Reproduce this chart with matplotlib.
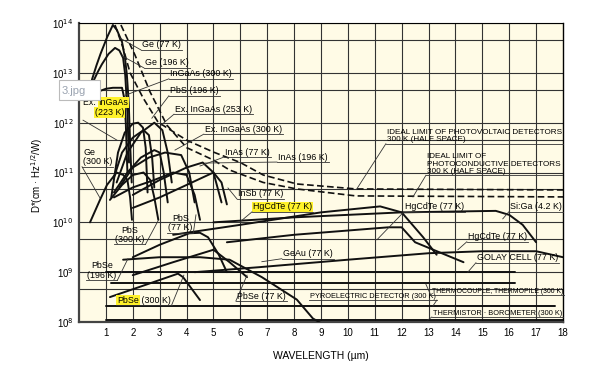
import numpy as np
import matplotlib.pyplot as plt
from matplotlib.lines import Line2D
from matplotlib.patches import Rectangle
from matplotlib.transforms import IdentityTransform, Bbox

plt.rcParams['font.family'] = ['Liberation Sans', 'DejaVu Sans']

# wavelength (um) and log10 D*
ge77_wl = [0.48, 0.65, 0.8, 1.05, 1.26, 1.41, 1.6, 1.71, 1.78, 1.85, 1.9, 1.96]
ge77_d = [12.86, 13.15, 13.38, 13.72, 13.96, 13.86, 13.62, 13.3, 12.96, 12.4, 11.6, 10.8]
ge196_wl = [0.55, 0.7, 0.85, 1.1, 1.34, 1.5, 1.64, 1.72, 1.8, 1.86]
ge196_d = [12.85, 13.02, 13.17, 13.38, 13.5, 13.45, 13.3, 12.95, 12.2, 11.2]
ingaas300_wl = [0.52, 0.8, 1.0, 1.26, 1.6, 1.68, 1.74, 1.8]
ingaas300_d = [12.56, 12.64, 12.68, 12.7, 12.7, 12.5, 12.0, 11.0]
exingaas223_wl = [1.2, 1.45, 1.7, 2.0, 2.2, 2.38, 2.48, 2.55]
exingaas223_d = [10.5, 11.4, 11.8, 11.98, 12.0, 11.9, 11.5, 10.6]
exingaas253_wl = [1.3, 1.6, 2.0, 2.4, 2.6, 2.72, 2.8]
exingaas253_d = [10.9, 11.4, 11.7, 11.85, 11.75, 11.3, 10.7]
pbs196_wl = [1.4, 1.8, 2.3, 2.8, 3.1, 3.3, 3.45]
pbs196_d = [10.8, 11.4, 11.8, 12.0, 11.85, 11.4, 10.8]
exingaas300_wl = [1.3, 1.8, 2.3, 2.8, 3.0, 3.15, 3.3]
exingaas300_d = [10.6, 11.0, 11.3, 11.45, 11.4, 11.0, 10.4]
inas77_wl = [1.5, 2.0, 2.6, 3.2, 3.8, 4.1, 4.3]
inas77_d = [10.7, 11.1, 11.3, 11.4, 11.35, 11.0, 10.4]
inas196_wl = [2.0, 3.0, 4.0, 4.6, 5.0, 5.3]
inas196_d = [10.55, 10.85, 11.1, 11.2, 11.0, 10.4]
insb77_wl = [2.0, 3.0, 4.0, 5.0, 5.3, 5.5]
insb77_d = [10.29, 10.5, 10.75, 11.0, 10.8, 10.36]
ge300_wl = [0.41, 0.78, 1.04, 1.4, 1.65, 1.8, 1.9, 1.97]
ge300_d = [10.0, 10.45, 10.75, 11.0, 10.95, 10.85, 10.5, 10.05]
pbs300_wl = [1.15, 1.6, 2.0, 2.4, 2.65, 2.8, 2.95]
pbs300_d = [10.45, 10.75, 10.95, 11.0, 10.85, 10.5, 10.05]
pbs77_wl = [1.3, 2.0, 2.8, 3.5, 4.0, 4.3, 4.5]
pbs77_d = [10.5, 10.7, 10.85, 11.0, 10.95, 10.55, 10.05]
pbse196_wl = [2.0, 3.0, 4.1, 4.5, 4.8, 5.2, 5.5]
pbse196_d = [9.3, 9.55, 9.78, 9.79, 9.7, 9.35, 9.0]
pbse77_wl = [2.0, 3.5, 5.0, 5.6, 6.25]
pbse77_d = [8.94, 9.2, 9.45, 9.2, 8.9]
pbse300_wl = [1.15, 2.5, 3.68, 3.87, 4.5]
pbse300_d = [8.5, 8.75, 8.97, 8.9, 8.44]
geau77_wl = [1.64, 3.0, 4.5, 5.6, 6.8, 8.1, 8.7, 8.96]
geau77_d = [9.25, 9.3, 9.3, 9.25, 8.9, 8.45, 8.07, 7.99]
hgcdte_a_wl = [3.5, 6.0, 9.0, 11.2, 12.0, 12.8, 13.3]
hgcdte_a_d = [9.75, 9.95, 10.2, 10.32, 10.2, 9.7, 9.35]
hgcdte_b_wl = [5.5, 8.0, 11.5, 12.0, 12.5, 14.3]
hgcdte_b_d = [9.6, 9.75, 9.9, 9.9, 9.6, 9.2]
hgcdte_c_wl = [4.3, 6.7, 10.0, 13.0, 15.0, 17.0, 18.0]
hgcdte_c_d = [9.0, 9.1, 9.25, 9.38, 9.42, 9.42, 9.3]
siga_wl = [5.0, 8.0, 12.0, 15.5, 16.0, 16.5, 17.0]
siga_d = [10.0, 10.1, 10.2, 10.23, 10.15, 9.95, 9.6]
golay_wl = [1.0, 16.2]
golay_d = [9.0, 9.0]
thermo_wl = [1.2, 16.2]
thermo_d = [8.78, 8.78]
pyro_wl = [1.0, 17.7]
pyro_d = [8.32, 8.32]
thermistor_wl = [1.0, 18.0]
thermistor_d = [8.05, 8.05]

# ideal limits (dashed)
pv_wl = [1.34, 1.64, 1.9, 2.38, 2.94, 4.0, 5.0, 6.0, 6.85, 8.1, 10.3, 18.0]
pv_d = [13.96, 13.5, 13.0, 12.5, 12.01, 11.65, 11.41, 11.2, 10.95, 10.77, 10.67, 10.65]
pc_wl = [1.56, 2.08, 2.64, 3.27, 4.0, 5.0, 5.6, 6.85, 8.1, 10.3, 18.0]
pc_d = [13.96, 13.36, 12.62, 11.95, 11.5, 11.25, 11.05, 10.8, 10.67, 10.53, 10.51]

solid = [(ge77_wl, ge77_d), (ge196_wl, ge196_d), (ingaas300_wl, ingaas300_d),
         (exingaas223_wl, exingaas223_d), (exingaas253_wl, exingaas253_d),
         (pbs196_wl, pbs196_d), (exingaas300_wl, exingaas300_d),
         (inas77_wl, inas77_d), (inas196_wl, inas196_d), (insb77_wl, insb77_d),
         (ge300_wl, ge300_d), (pbs300_wl, pbs300_d), (pbs77_wl, pbs77_d),
         (pbse196_wl, pbse196_d), (pbse77_wl, pbse77_d), (pbse300_wl, pbse300_d),
         (geau77_wl, geau77_d), (hgcdte_a_wl, hgcdte_a_d), (hgcdte_b_wl, hgcdte_b_d),
         (hgcdte_c_wl, hgcdte_c_d), (siga_wl, siga_d), (golay_wl, golay_d),
         (thermo_wl, thermo_d), (pyro_wl, pyro_d), (thermistor_wl, thermistor_d)]

xticks = list(range(1, 19))
ydecades = list(range(8, 15))

fig = plt.figure(figsize=(6.01, 3.77), dpi=100)
ax = fig.add_axes([79 / 601, 1 - 322 / 377, 484 / 601, 299 / 377])
ax.set_facecolor('#fffbe6')
ax.set_yscale('log')
ax.set_xlim(0, 18)
ax.set_ylim(1e8, 1e14)

# grid
for x in xticks[:-1]:
    ax.axvline(x, color='#333333', lw=0.8, zorder=1)
for n in ydecades:
    ax.axhline(10.0 ** n, color='#333333', lw=0.8, zorder=1)
    if n < 14:
        ax.axhline(10.0 ** (n + 0.66), color='#333333', lw=0.8, zorder=1)

for wl, d in solid:
    ax.plot(wl, 10 ** np.array(d), color='#111111', lw=1.4, zorder=3,
            solid_capstyle='round', solid_joinstyle='round')
ax.plot(pv_wl, 10 ** np.array(pv_d), color='#111111', lw=1.2, ls=(0, (4, 2)), zorder=3)
ax.plot(pc_wl, 10 ** np.array(pc_d), color='#111111', lw=1.2, ls=(0, (4, 2)), zorder=3)

ax.set_xticks(xticks)
ax.set_xticklabels([str(v) for v in xticks], fontsize=7)
ax.set_yticks([10.0 ** n for n in ydecades])
ax.set_yticklabels(['10$^{%d}$' % n for n in ydecades], fontsize=7)
ax.minorticks_off()
ax.tick_params(length=0, pad=4)
for s in ['left', 'bottom']:
    ax.spines[s].set_linewidth(1.6)
    ax.spines[s].set_color('#444444')
ax.spines['top'].set_linewidth(0.8)
ax.spines['right'].set_linewidth(1.0)
ax.set_xlabel('WAVELENGTH (µm)', fontsize=7.5, labelpad=10)
ax.set_ylabel('D*(cm · Hz$^{1/2}$/W)', fontsize=7)
ax.yaxis.set_label_coords(-0.07, 0.49)

FS = 6.4
HL = dict(facecolor='#fff22a', edgecolor='none', pad=0.6)
labels = []


def put(txt, x, ld, tx, tld, side='left', hl=False, ma='left', fs=FS):
    t = ax.text(x, 10 ** ld, txt, fontsize=fs, ha='left', va='center', zorder=5,
                multialignment=ma, linespacing=1.05, bbox=HL if hl else None)
    labels.append(([t], (tx, tld), side))
    return t


put('Ge (77 K)', 2.34, 13.56, 1.52, 13.7)
put('Ge (196 K)', 2.45, 13.2, 1.6, 13.34)
put('InGaAs (300 K)', 3.38, 12.98, 1.72, 12.55)
put('PbS (196 K)', 3.38, 12.64, 2.71, 12.09)
put('Ex. InGaAs (253 K)', 3.57, 12.27, 3.01, 11.93)
put('Ex. InGaAs (300 K)', 4.68, 11.87, 3.57, 11.45)
put('InAs (77 K)', 5.43, 11.41, 4.5, 11.13)
put('InAs (196 K)', 7.4, 11.31, 4.68, 11.19)
put('InSb (77 K)', 5.91, 10.57, 5.54, 10.69)
put('HgCdTe (77 K)', 6.47, 10.31, 5.99, 10.01, hl=True)
put('HgCdTe (77 K)', 12.12, 10.31, 11.08, 9.65)
put('Si:Ga (4.2 K)', 16.02, 10.31, 15.76, 10.07)
put('HgCdTe (77 K)', 14.46, 9.71, 14.09, 9.45)
put('GOLAY CELL (77 K)', 14.8, 9.29, 14.46, 9.0)
put('THERMOCOUPLE, THERMOPILE (300 K)', 13.12, 8.62, 12.9, 8.76, fs=4.95)
put('PYROELECTRIC DETECTOR (300 K)', 8.59, 8.52, 13.16, 8.32, side='right', fs=5.3)
put('THERMISTOR · BOROMETER (300 K)', 13.16, 8.18, 12.97, 8.04, fs=5.3)
put('PbSe (77 K)', 5.87, 8.52, 6.25, 8.94)
put('GeAu (77 K)', 7.58, 9.37, 6.8, 9.21)
put('PbSe\n(196 K)', 0.3, 9.03, 1.82, 9.27, side='right', ma='center')
put('PbS\n(300 K)', 1.34, 9.75, 2.94, 10.03, side='right', ma='center')
put('PbS\n(77 K)', 3.31, 9.99, 4.35, 10.15, side='right', ma='center')
put('Ge\n(300 K)', 0.15, 11.31, 0.78, 10.49)
put('IDEAL LIMIT OF PHOTOVOLTAIC DETECTORS\n300 K (HALF SPACE)', 11.45, 11.73,
    10.33, 10.67, fs=5.9)
put('IDEAL LIMIT OF\nPHOTOCONDUCTIVE DETECTORS\n300 K (HALF SPACE)', 12.94, 11.17,
    12.42, 10.51, fs=5.9)

# partially highlighted labels
t1 = ax.text(0.15, 10 ** 12.4, 'Ex. ', fontsize=FS, ha='left', va='center', zorder=5)
t2 = ax.annotate('InGaAs', xy=(1, 0.5), xycoords=t1, ha='left', va='center',
                 fontsize=FS, bbox=HL, zorder=5)
t3 = ax.text(0.6, 10 ** 12.2, '(223 K)', fontsize=FS, ha='left', va='center',
             bbox=HL, zorder=5)
ax.plot([0.15, 1.41], [10 ** 12.05, 10 ** 11.65], color='#333333', lw=0.6, zorder=4)

t4 = ax.text(1.41, 10 ** 8.44, 'PbSe', fontsize=FS, ha='left', va='center',
             bbox=HL, zorder=5)
t5 = ax.annotate(' (300 K)', xy=(1, 0.5), xycoords=t4, ha='left', va='center',
                 fontsize=FS, zorder=5)
labels.append(([t4, t5], (3.9, 8.94), 'right'))

fig.canvas.draw()
for arts, (tx, tld), side in labels:
    bb = Bbox.union([a.get_window_extent() for a in arts])
    y = bb.y0 - 0.5
    fig.add_artist(Line2D([bb.x0 - 1, bb.x1 + 1], [y, y], transform=IdentityTransform(),
                          color='#333333', lw=0.6, zorder=4))
    px, py = ax.transData.transform((tx, 10 ** tld))
    sx = bb.x0 - 1 if side == 'left' else bb.x1 + 1
    fig.add_artist(Line2D([sx, px], [y, py], transform=IdentityTransform(),
                          color='#333333', lw=0.6, zorder=4))

# image-name tooltip overlaid on the chart
fig.add_artist(Rectangle((59 / 601, 1 - 100 / 377), 41 / 601, 20 / 377,
                         transform=fig.transFigure, facecolor='white',
                         edgecolor='#bbbbbb', lw=0.8, zorder=10))
fig.text(62 / 601, 1 - 91 / 377, '3.jpg', fontsize=8, color='#9aa3b0',
         va='center', zorder=11)

fig.savefig('out.png', dpi=100)
